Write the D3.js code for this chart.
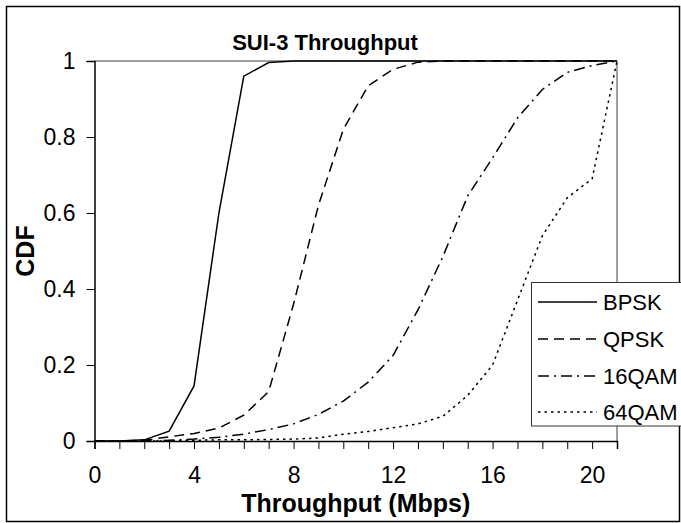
<!DOCTYPE html>
<html>
<head>
<meta charset="utf-8">
<script src="https://cdn.jsdelivr.net/npm/d3@7"></script>
<style>
  html, body { margin: 0; padding: 0; background: #fff; }
  svg { display: block; }
  text { font-family: "Liberation Sans", Arial, sans-serif; fill: #000; }
</style>
</head>
<body>
<svg id="chart" width="681" height="523"></svg>
<script>
// ---- data ----
const throughput = [0,1,2,3,4,5,6,7,8,9,10,11,12,13,14,15,16,17,18,19,20,21];
const bpsk  = [0,0,0.003,0.026,0.145,0.6,0.96,0.996,1,1,1,1,1,1,1,1,1,1,1,1,1,1];
const qpsk  = [0,0,0.002,0.011,0.02,0.034,0.068,0.13,0.36,0.62,0.82,0.935,0.978,0.997,1,1,1,1,1,1,1,1];
const qam16 = [0,0,0,0.002,0.005,0.01,0.018,0.03,0.045,0.07,0.105,0.155,0.225,0.345,0.485,0.645,0.745,0.85,0.925,0.97,0.988,1];
const qam64 = [0,0,0,0,0.002,0.003,0.003,0.004,0.005,0.008,0.018,0.025,0.035,0.045,0.065,0.12,0.2,0.37,0.54,0.64,0.69,1];
const seriesNames = ["BPSK","QPSK","16QAM","64QAM"];
const xTickLabels = [0,4,8,12,16,20];
const yTickLabels = [0,0.2,0.4,0.6,0.8,1];
const chartTitle = "SUI-3 Throughput";
const xTitle = "Throughput (Mbps)";
const yTitle = "CDF";

// ---- layout ----
const svg = d3.select("#chart");
const L = 94.5, R = 617, T = 61, B = 441;
const x = d3.scaleLinear().domain([0, 21]).range([L, R]);
const y = d3.scaleLinear().domain([0, 1]).range([B, T]);
const FONT = "Liberation Sans, Arial, sans-serif";

// outer frame
svg.append("rect").attr("x", 6.5).attr("y", 6.5).attr("width", 673).attr("height", 515)
  .attr("fill", "none").attr("stroke", "#000").attr("stroke-width", 1.5);

// plot border (top/right gray)
svg.append("line").attr("x1", L).attr("x2", R).attr("y1", T).attr("y2", T)
  .attr("stroke", "#808080").attr("stroke-width", 1.5);
svg.append("line").attr("x1", R).attr("x2", R).attr("y1", T).attr("y2", B)
  .attr("stroke", "#808080").attr("stroke-width", 1.5);

// x axis
const xAxis = d3.axisBottom(x).tickValues(d3.range(0, 22, 1))
  .tickFormat(d => xTickLabels.includes(d) ? d : "").tickSize(8).tickPadding(18);
const gx = svg.append("g").attr("transform", `translate(0,${B})`).call(xAxis);
gx.select(".domain").attr("stroke", "#000").attr("stroke-width", 1.5);
gx.selectAll(".tick line").attr("stroke", "#000").attr("stroke-width", 1);
gx.selectAll(".tick text").attr("font-size", 23).attr("font-family", FONT);

// y axis
const yAxis = d3.axisLeft(y).tickValues(yTickLabels).tickFormat(d3.format("~g"))
  .tickSize(8).tickPadding(11);
const gy = svg.append("g").attr("transform", `translate(${L},0)`).call(yAxis);
gy.select(".domain").attr("stroke", "#000").attr("stroke-width", 1.5);
gy.selectAll(".tick line").attr("stroke", "#000").attr("stroke-width", 1);
gy.selectAll(".tick text").attr("font-size", 23).attr("font-family", FONT);

// series
const styles = [
  { data: bpsk,  dash: null },
  { data: qpsk,  dash: "10,6" },
  { data: qam16, dash: "11,5,2,5" },
  { data: qam64, dash: "2.5,4" }
];
const line = d3.line().x((d, i) => x(throughput[i])).y(d => y(d));
styles.forEach(s => {
  svg.append("path").datum(s.data).attr("d", line)
    .attr("fill", "none").attr("stroke", "#000").attr("stroke-width", 1.5)
    .attr("stroke-dasharray", s.dash);
});

// titles
svg.append("text").attr("x", 325).attr("y", 50).attr("text-anchor", "middle")
  .attr("font-size", 22).attr("font-weight", "bold").text(chartTitle);
svg.append("text").attr("x", (L + R) / 2).attr("y", 512).attr("text-anchor", "middle")
  .attr("font-size", 25).attr("font-weight", "bold").text(xTitle);
svg.append("text").attr("transform", `translate(34,${(T + B) / 2}) rotate(-90)`)
  .attr("text-anchor", "middle").attr("font-size", 25).attr("font-weight", "bold").text(yTitle);

// legend
const lg = svg.append("g");
lg.append("rect").attr("x", 531.5).attr("y", 282.5).attr("width", 160).attr("height", 143.5)
  .attr("fill", "#fff").attr("stroke", "#333").attr("stroke-width", 1);
const rowY = [302, 339, 376, 412];
seriesNames.forEach((n, i) => {
  lg.append("line").attr("x1", 538).attr("x2", 597).attr("y1", rowY[i]).attr("y2", rowY[i])
    .attr("stroke", "#000").attr("stroke-width", 1.5).attr("stroke-dasharray", styles[i].dash);
  lg.append("text").attr("x", 603).attr("y", rowY[i]).attr("dy", "0.36em")
    .attr("font-size", 22).text(n);
});
</script>
</body>
</html>
